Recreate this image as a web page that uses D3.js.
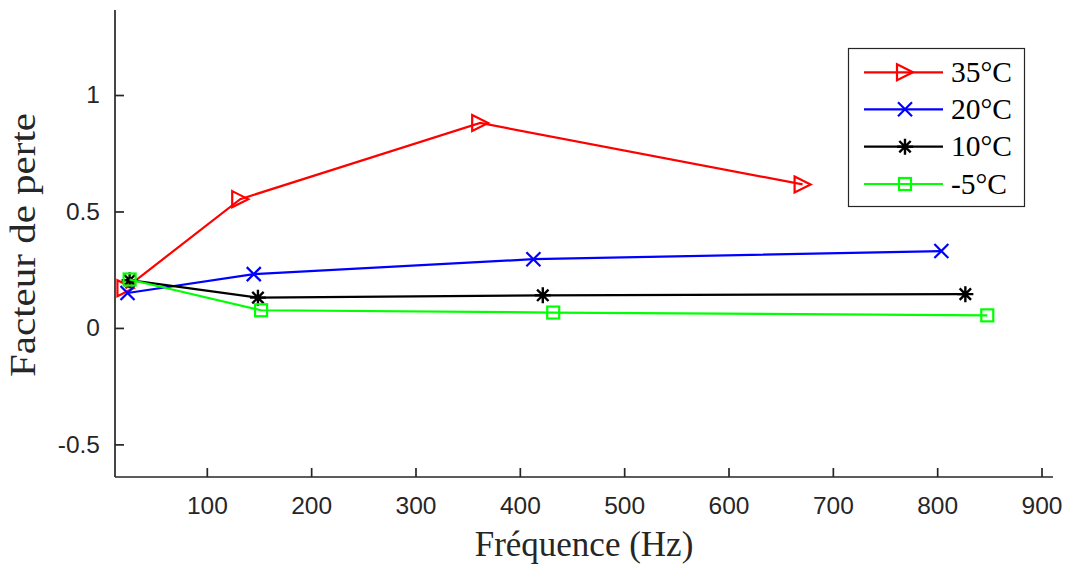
<!DOCTYPE html>
<html><head><meta charset="utf-8">
<script src="https://cdn.jsdelivr.net/npm/d3@7"></script>
<style>body{margin:0;background:#fff}svg{display:block}</style>
</head><body>
<svg id="c" width="1068" height="564"></svg>
<script>
const seriesNames = ["35°C", "20°C", "10°C", "-5°C"];
const seriesColors = ["#ff0000", "#0000ff", "#000000", "#00ff00"];
const seriesMarkers = ["triangle", "x", "star", "square"];
const freq35 = [22, 132, 362, 671];
const val35 = [0.17, 0.553, 0.88, 0.616];
const freq20 = [24, 145, 413, 804];
const val20 = [0.15, 0.231, 0.295, 0.33];
const freq10 = [26, 149, 422, 827];
const val10 = [0.205, 0.13, 0.14, 0.145];
const freqM5 = [26, 152, 432, 848];
const valM5 = [0.208, 0.076, 0.066, 0.054];
const xTicks = [100, 200, 300, 400, 500, 600, 700, 800, 900];
const yTicks = [-0.5, 0, 0.5, 1];
const yTickLabels = ["-0.5", "0", "0.5", "1"];
const xLabel = "Fréquence (Hz)";
const yLabel = "Facteur de perte";

const allX = [freq35, freq20, freq10, freqM5];
const allY = [val35, val20, val10, valM5];

const svg = d3.select("#c");
const L = 115, R = 1053, T = 10, B = 477;
const x = d3.scaleLinear().domain([12, 911]).range([L, R]);
const y = d3.scaleLinear().domain([-0.64, 1.365]).range([B, T]);
const axisColor = "#262626";

const gx = svg.append("g").attr("transform", `translate(0,${B})`)
  .call(d3.axisBottom(x).tickValues(xTicks).tickSizeInner(-9).tickSizeOuter(0).tickPadding(20));
const gy = svg.append("g").attr("transform", `translate(${L},0)`)
  .call(d3.axisLeft(y).tickValues(yTicks).tickFormat((d,i)=>yTickLabels[i]).tickSizeInner(-9).tickSizeOuter(0).tickPadding(15));
[gx, gy].forEach(g => {
  g.select(".domain").attr("stroke", axisColor).attr("stroke-width", 1.7);
  g.selectAll(".tick line").attr("stroke", axisColor).attr("stroke-width", 1.7);
  g.selectAll(".tick text").attr("fill", axisColor).style("font-family", "'Liberation Sans', Arial, sans-serif").style("font-size", "24.5px");
});
gx.select(".domain").attr("d", `M${L},0H${R}`);
gy.select(".domain").attr("d", `M0,${T}V${B}`);

function drawMarker(g, type, cx, cy, color) {
  const s = 8;
  if (type === "triangle") {
    g.append("path").attr("d", `M${cx-s},${cy-s}L${cx+s},${cy}L${cx-s},${cy+s}Z`)
      .attr("fill", "none").attr("stroke", color).attr("stroke-width", 2.2);
  } else if (type === "x") {
    g.append("path").attr("d", `M${cx-7},${cy-7}L${cx+7},${cy+7}M${cx-7},${cy+7}L${cx+7},${cy-7}`)
      .attr("stroke", color).attr("stroke-width", 2.2);
  } else if (type === "star") {
    const r = 8, d = 5.7;
    g.append("path").attr("d", `M${cx},${cy-r}V${cy+r}M${cx-d},${cy-d}L${cx+d},${cy+d}M${cx-d},${cy+d}L${cx+d},${cy-d}M${cx-r},${cy}H${cx+r}`)
      .attr("stroke", color).attr("stroke-width", 2.4);
  } else if (type === "square") {
    g.append("rect").attr("x", cx-6).attr("y", cy-6).attr("width", 12).attr("height", 12)
      .attr("fill", "none").attr("stroke", color).attr("stroke-width", 2.2);
  }
}

const line = d3.line().x(d => x(d[0])).y(d => y(d[1]));
seriesNames.forEach((name, i) => {
  const pts = allX[i].map((f, j) => [f, allY[i][j]]);
  const g = svg.append("g");
  g.append("path").datum(pts).attr("d", line).attr("fill", "none")
    .attr("stroke", seriesColors[i]).attr("stroke-width", 2.2);
  pts.forEach(p => drawMarker(g, seriesMarkers[i], x(p[0]), y(p[1]), seriesColors[i]));
});

const lg = svg.append("g");
lg.append("rect").attr("x", 848.5).attr("y", 48.5).attr("width", 176).attr("height", 158)
  .attr("fill", "#fff").attr("stroke", axisColor).attr("stroke-width", 1.2);
const rowsY = [72.3, 109.3, 146.7, 184];
seriesNames.forEach((name, i) => {
  const yy = rowsY[i];
  lg.append("line").attr("x1", 864).attr("x2", 943).attr("y1", yy).attr("y2", yy)
    .attr("stroke", seriesColors[i]).attr("stroke-width", 2.2);
  drawMarker(lg, seriesMarkers[i], 905, yy, seriesColors[i]);
  lg.append("text").attr("x", 951).attr("y", yy + 9.5).text(name)
    .style("font-family", "'Liberation Serif', 'Times New Roman', serif").style("font-size", "29.5px").attr("fill", "#000");
});

svg.append("text").attr("x", 584).attr("y", 556).attr("text-anchor", "middle").text(xLabel)
  .style("font-family", "'Liberation Serif', 'Times New Roman', serif").style("font-size", "35px").attr("fill", axisColor);
svg.append("text").attr("transform", `translate(35,245) rotate(-90)`).attr("text-anchor", "middle").text(yLabel)
  .attr("textLength", 264).attr("lengthAdjust", "spacingAndGlyphs")
  .style("font-family", "'Liberation Serif', 'Times New Roman', serif").style("font-size", "35px").attr("fill", axisColor);
</script>
</body></html>
